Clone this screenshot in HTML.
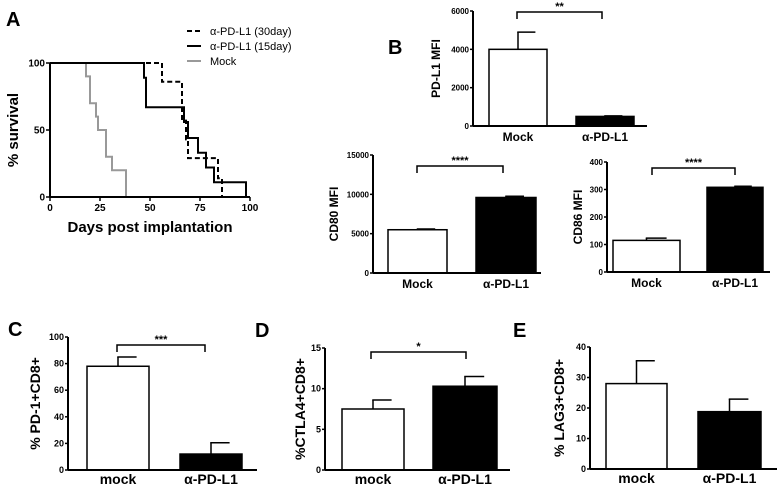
<!DOCTYPE html>
<html><head><meta charset="utf-8"><style>
body{margin:0;background:#fff;}
svg{display:block;font-family:"Liberation Sans",Arial,sans-serif;font-weight:bold;}
</style></head><body>
<svg id="fig" width="778" height="486" viewBox="0 0 778 486">
<g id="pA"></g>
<g id="pB"></g>
<g id="pC"></g>
</svg>
<script>
// Survival data (days, % survival)
const mockDays=[0,18,20,23,24,28,31,38];
const mockSurv=[100,90,70,60,50,30,20,0];
const d15Days=[0,47,48,67,69,74,78,82,98];
const d15Surv=[100,89,67,56,44,33,22,11,0];
const d30Days=[0,56,66,68,69,84,86];
const d30Surv=[100,86,57,43,29,14,0];
const survXTicks=[0,25,50,75,100];
const survYTicks=[0,50,100];
// Bar data
const barCats=["Mock","α-PD-L1"];
const barCatsLower=["mock","α-PD-L1"];
const pdl1Vals=[4000,500];const pdl1Err=[900,30];
const cd80Vals=[5500,9600];const cd80Err=[100,150];
const cd86Vals=[115,308];const cd86Err=[8,4];
const pd1Vals=[78,12];const pd1Err=[7,8.5];
const ctla4Vals=[7.5,10.3];const ctla4Err=[1.1,1.2];
const lag3Vals=[28,18.8];const lag3Err=[7.5,4.1];

const NS="http://www.w3.org/2000/svg";
function mk(parent,tag,attrs,text){const e=document.createElementNS(NS,tag);for(const k in attrs)e.setAttribute(k,attrs[k]);if(text!==undefined)e.textContent=text;parent.appendChild(e);return e;}

// Panel A
(function(){
const g=document.getElementById('pA');
const x0=50,x1=250,y0=197,y1=63;
const X=d=>x0+(x1-x0)*d/100, Y=v=>y0-(y0-y1)*v/100;
let t=mk(g,'text',{x:6,y:26,'font-size':20});t.textContent='A';


function step(days,surv,attrs,name){
  let d='M'+X(days[0])+','+Y(surv[0]);
  for(let i=1;i<days.length;i++){d+=' H'+X(days[i])+' V'+Y(surv[i]);}
  const p=mk(g,'path',Object.assign({d:d,fill:'none'},attrs));
  
  
}
step(mockDays,mockSurv,{stroke:'#999','stroke-width':2},'mock-curve');
step(d30Days,d30Surv,{stroke:'#000','stroke-width':2,'stroke-dasharray':'5,3'},'pdl1-30day-curve');
step(d15Days,d15Surv,{stroke:'#000','stroke-width':2},'pdl1-15day-curve');
mk(g,'line',{x1:x0,y1:y0,x2:x1,y2:y0,stroke:'#000','stroke-width':2});
mk(g,'line',{x1:x0,y1:y0,x2:x0,y2:y1,stroke:'#000','stroke-width':2});
survXTicks.forEach(v=>{mk(g,'line',{x1:X(v),y1:y0,x2:X(v),y2:y0+4,stroke:'#000','stroke-width':1.5});
 const l=mk(g,'text',{x:X(v),y:y0+14,'font-size':10,'text-anchor':'middle'},v);
 
 });
survYTicks.forEach(v=>{mk(g,'line',{x1:x0-4,y1:Y(v),x2:x0,y2:Y(v),stroke:'#000','stroke-width':1.5});
 const l=mk(g,'text',{x:x0-5,y:Y(v)+3.5,'font-size':10,'text-anchor':'end'},v);
 
 });
let xt=mk(g,'text',{x:150,y:232,'font-size':15,'text-anchor':'middle'},'Days post implantation');


let yt=mk(g,'text',{x:0,y:0,'font-size':15,'text-anchor':'middle',transform:'translate(18,130) rotate(-90)'},'% survival');


const leg=[['α-PD-L1 (30day)','#000','5,3'],['α-PD-L1 (15day)','#000',''],['Mock','#999','']];
leg.forEach((L,i)=>{const y=31+i*15;
 const a={x1:187,y1:y,x2:201,y2:y,stroke:L[1],'stroke-width':2};if(L[2])a['stroke-dasharray']=L[2];
 mk(g,'line',a);
 const tt=mk(g,'text',{x:210,y:y+4,'font-size':11,'font-weight':'normal'},L[0]);
 
 });
})();

function barChart(gid,o){
const g=document.getElementById(gid);
const sub=mk(g,'g',{});


const Y=v=>o.y0-(o.y0-o.y1)*v/o.max;
const fs=o.cond?'font-stretch:condensed':'';
o.vals.forEach((v,i)=>{
 const bx=o.bars[i][0],bw=o.bars[i][1]-o.bars[i][0];
 const cx=bx+bw/2;
 mk(sub,'line',{x1:cx,y1:Y(v),x2:cx,y2:Y(v+o.err[i]),stroke:'#000','stroke-width':1.5});
 mk(sub,'line',{x1:cx-0.75,y1:Y(v+o.err[i]),x2:cx+bw*0.3,y2:Y(v+o.err[i]),stroke:'#000','stroke-width':1.5});
 const r=mk(sub,'rect',{x:bx,y:Y(v),width:bw,height:o.y0-Y(v),fill:i?'#000':'#fff',stroke:'#000','stroke-width':1.5});
 
 
 const lt=mk(sub,'text',{x:cx,y:o.y0+o.lblOff,'font-size':o.lfs,'text-anchor':'middle',style:fs},o.cats[i]);
 
 
});
mk(sub,'line',{x1:o.ax,y1:o.y0,x2:o.xe,y2:o.y0,stroke:'#000','stroke-width':2});
mk(sub,'line',{x1:o.ax,y1:o.y0,x2:o.ax,y2:o.y1,stroke:'#000','stroke-width':2});
o.ticks.forEach(v=>{mk(sub,'line',{x1:o.ax-3,y1:Y(v),x2:o.ax,y2:Y(v),stroke:'#000','stroke-width':1.5});
 const l=mk(sub,'text',{x:o.ax-4,y:Y(v)+3,'font-size':o.tfs||8,'text-anchor':'end',style:fs},v);
 
 });
const yt=mk(sub,'text',{x:0,y:0,'font-size':o.yfs,'text-anchor':'middle',style:fs,transform:'translate('+o.ylx+','+((o.y0+o.y1)/2)+') rotate(-90)'},o.ytitle);


if(o.sig){const b=o.sig;
 mk(sub,'path',{d:'M'+b[0]+','+(b[2]+7)+' V'+b[2]+' H'+b[1]+' V'+(b[2]+7),fill:'none',stroke:'#000','stroke-width':1.5});
 const s=mk(sub,'text',{x:(b[0]+b[1])/2,y:b[2]-2,'font-size':11,'text-anchor':'middle'},b[3]);
 
 }
if(o.letter){const L=mk(sub,'text',{x:o.letter[0],y:o.letter[1],'font-size':20,style:fs},o.letter[2]);
 
 }
}
barChart('pB',{name:'pdl1-mfi-chart',vals:pdl1Vals,err:pdl1Err,cats:barCats,max:6000,ticks:[0,2000,4000,6000],y0:126,y1:11,ax:473,xe:647,bars:[[489,547],[576,634]],lblOff:15,lfs:12,yfs:12,ylx:440,ytitle:'PD-L1 MFI',sig:[517,602,12,'**'],letter:[388,54,'B']});
barChart('pB',{name:'cd80-mfi-chart',vals:cd80Vals,err:cd80Err,cats:barCats,max:15000,ticks:[0,5000,10000,15000],y0:273,y1:155,ax:373,xe:541,bars:[[388,447],[476,536]],lblOff:15,lfs:12,yfs:12,ylx:338,ytitle:'CD80 MFI',sig:[417,503,166,'****']});
barChart('pB',{name:'cd86-mfi-chart',vals:cd86Vals,err:cd86Err,cats:barCats,max:400,ticks:[0,100,200,300,400],y0:272,y1:162,ax:607,xe:770,bars:[[613,680],[707,763]],lblOff:15,lfs:12,yfs:12,ylx:582,ytitle:'CD86 MFI',sig:[652,735,168,'****']});
barChart('pC',{name:'pd1-cd8-chart',cond:1,vals:pd1Vals,err:pd1Err,cats:barCatsLower,max:100,ticks:[0,20,40,60,80,100],tfs:9,y0:470,y1:337,ax:68,xe:257,bars:[[87,149],[180,242]],lblOff:14,lfs:14,yfs:14,ylx:40,ytitle:'% PD-1+CD8+',sig:[117,205,345,'***'],letter:[8,336,'C']});
barChart('pC',{name:'ctla4-cd8-chart',cond:1,vals:ctla4Vals,err:ctla4Err,cats:barCatsLower,max:15,ticks:[0,5,10,15],tfs:9,y0:470,y1:348,ax:325,xe:510,bars:[[342,404],[433,497]],lblOff:14,lfs:14,yfs:14,ylx:305,ytitle:'%CTLA4+CD8+',sig:[371,466,352,'*'],letter:[255,337,'D']});
barChart('pC',{name:'lag3-cd8-chart',cond:1,vals:lag3Vals,err:lag3Err,cats:barCatsLower,max:40,ticks:[0,10,20,30,40],tfs:9,y0:469,y1:347,ax:590,xe:777,bars:[[606,667],[698,761]],lblOff:14,lfs:14,yfs:14,ylx:564,ytitle:'% LAG3+CD8+',letter:[513,337,'E']});
</script>
</body></html>
